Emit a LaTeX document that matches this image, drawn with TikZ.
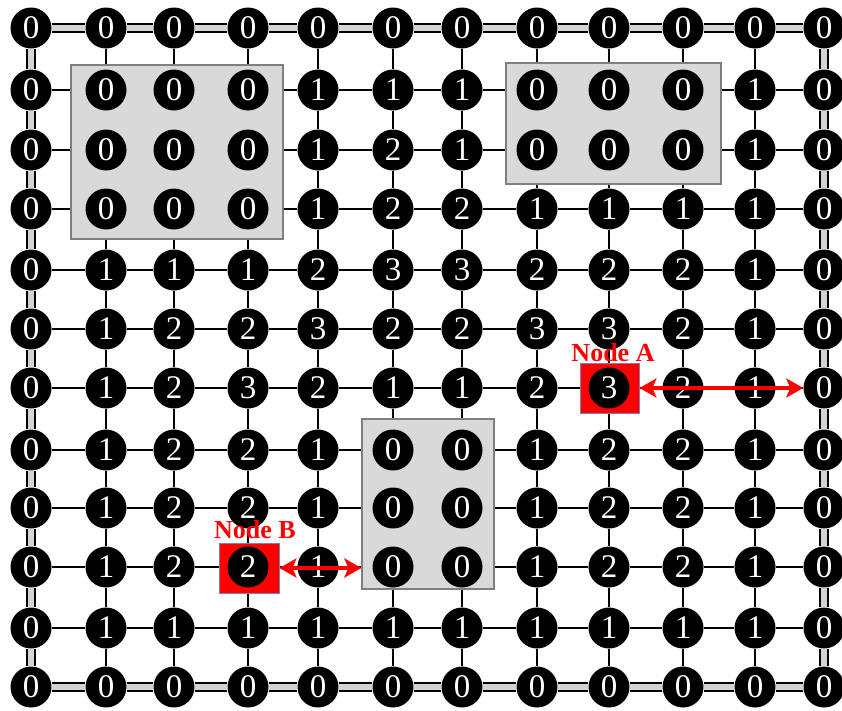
\documentclass[tikz,border=0pt]{standalone}
\usepackage{fontspec}
\setmainfont{Liberation Serif}
\usetikzlibrary{arrows.meta}
\pgfdeclarelayer{bg}
\pgfdeclarelayer{boxes}
\pgfsetlayers{bg,boxes,main}
\definecolor{borderfill}{HTML}{D4D4D4}
\definecolor{boxfill}{HTML}{D9D9D9}
\definecolor{boxedge}{HTML}{7F7F7F}
\definecolor{sqedge}{HTML}{8080B0}
\begin{document}
\begin{tikzpicture}[x=1pt,y=-1pt,
  cnode/.style={circle,fill=black,minimum size=41pt,inner sep=0pt,text=white,font=\fontsize{33}{33}\selectfont},
  gline/.style={line width=2pt,black},
  bline/.style={line width=2pt,draw=black,double=borderfill,double distance=6pt},
  graybox/.style={rectangle,fill=boxfill,draw=boxedge,line width=1.2pt,inner sep=0pt},
  redsq/.style={rectangle,fill=red,draw=sqedge,line width=0.8pt,inner sep=0pt},
  redlabel/.style={text=red,font=\bfseries\fontsize{26}{26}\selectfont,inner sep=0pt},
  redarrow/.style={red,line width=4.5pt,{Stealth[length=17pt,width=19pt,inset=4pt]}-{Stealth[length=17pt,width=19pt,inset=4pt]}}
]
\useasboundingbox (0,0) rectangle (842,710);
\def\xs{{31,106,174,248,318,393,462,537,609,683,755,824}}
\def\ys{{28,90,150,209,270,329,388,450,508,567,628,687}}
% nodes
\foreach \vals [count=\r from 0] in {
 {0,0,0,0,0,0,0,0,0,0,0,0},
 {0,0,0,0,1,1,1,0,0,0,1,0},
 {0,0,0,0,1,2,1,0,0,0,1,0},
 {0,0,0,0,1,2,2,1,1,1,1,0},
 {0,1,1,1,2,3,3,2,2,2,1,0},
 {0,1,2,2,3,2,2,3,3,2,1,0},
 {0,1,2,3,2,1,1,2,3,2,1,0},
 {0,1,2,2,1,0,0,1,2,2,1,0},
 {0,1,2,2,1,0,0,1,2,2,1,0},
 {0,1,2,2,1,0,0,1,2,2,1,0},
 {0,1,1,1,1,1,1,1,1,1,1,0},
 {0,0,0,0,0,0,0,0,0,0,0,0}}
{
  \foreach \v [count=\c from 0] in \vals {
    \pgfmathsetmacro\px{\xs[\c]}
    \pgfmathsetmacro\py{\ys[\r]}
    \node[cnode] (n-\r-\c) at (\px,\py) {\v};
  }
}
% background and grid lines
\begin{pgfonlayer}{bg}
\fill[white] (0,0) rectangle (842,710);
\foreach \r in {1,...,10} {
  \foreach \c in {0,...,10} {
    \pgfmathtruncatemacro\cn{\c+1}
    \draw[gline] (n-\r-\c) -- (n-\r-\cn);
  }
}
\foreach \c in {1,...,10} {
  \foreach \r in {0,...,10} {
    \pgfmathtruncatemacro\rn{\r+1}
    \draw[gline] (n-\r-\c) -- (n-\rn-\c);
  }
}
\foreach \r in {0,11} {
  \foreach \c in {0,...,10} {
    \pgfmathtruncatemacro\cn{\c+1}
    \draw[bline] (n-\r-\c) -- (n-\r-\cn);
  }
}
\foreach \c in {0,11} {
  \foreach \r in {0,...,10} {
    \pgfmathtruncatemacro\rn{\r+1}
    \draw[bline] (n-\r-\c) -- (n-\rn-\c);
  }
}
\end{pgfonlayer}
% gray boxes and red squares
\begin{pgfonlayer}{boxes}
\node[graybox,minimum width=212pt,minimum height=174pt] (box1) at (177,152) {};
\node[graybox,minimum width=215pt,minimum height=121pt] (box2) at (613.5,123.5) {};
\node[graybox,minimum width=132pt,minimum height=170pt] (box3) at (428,504) {};
\node[redsq,minimum width=59pt,minimum height=50pt] (sqA) at (609.5,388) {};
\node[redsq,minimum width=60pt,minimum height=50pt] (sqB) at (249,568) {};
\end{pgfonlayer}
% labels and arrows
\node[redlabel] (labA) at (613,353) {Node A};
\node[redlabel] (labB) at (255,530) {Node B};
\draw[redarrow] (sqA.east) -- (n-6-11.west);
\draw[redarrow] (sqB.east) -- (sqB.east -| box3.west);
\end{tikzpicture}
\end{document}
